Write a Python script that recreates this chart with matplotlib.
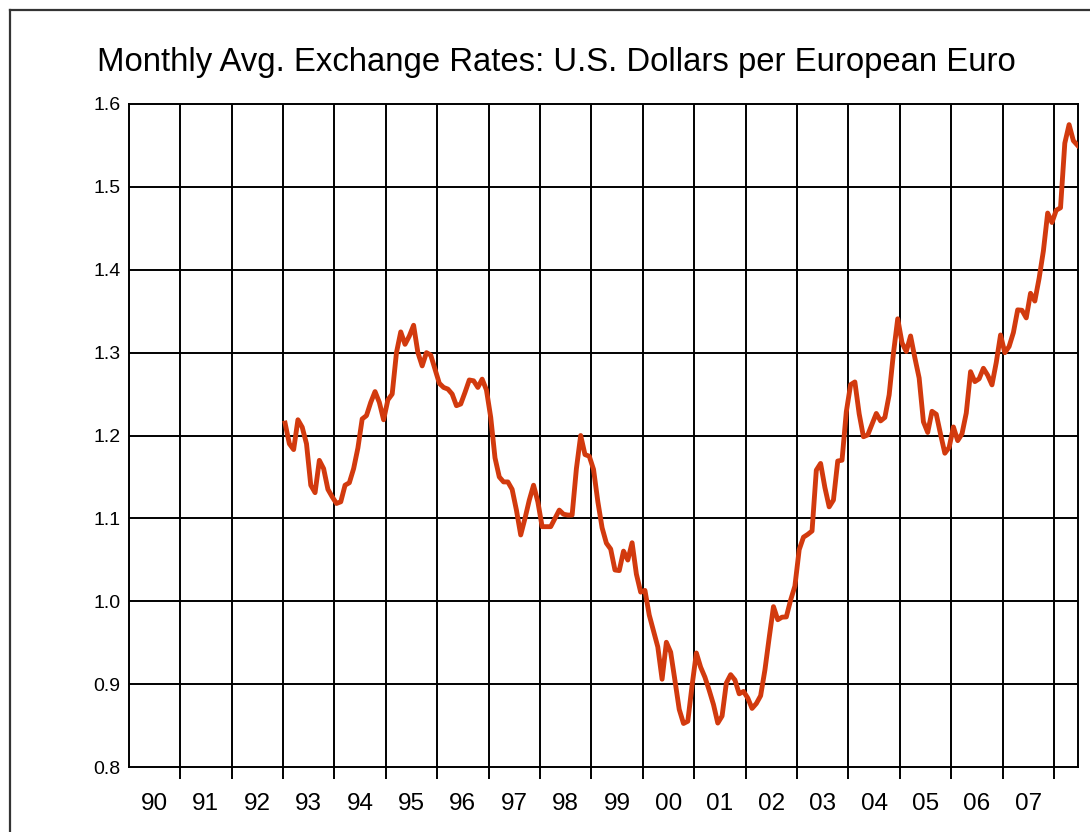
import matplotlib
matplotlib.use("Agg")
import matplotlib.pyplot as plt
from matplotlib.lines import Line2D
import numpy as np

# Monthly average USD per EUR, Jan 1993 .. Jun 2008
rates_1993 = [1.215, 1.190, 1.183, 1.219, 1.210, 1.190, 1.140, 1.131, 1.170, 1.160, 1.135, 1.126]
rates_1994 = [1.118, 1.120, 1.140, 1.143, 1.160, 1.185, 1.220, 1.224, 1.240, 1.253, 1.240, 1.219]
rates_1995 = [1.243, 1.250, 1.300, 1.325, 1.310, 1.320, 1.333, 1.300, 1.284, 1.300, 1.297, 1.280]
rates_1996 = [1.263, 1.258, 1.256, 1.250, 1.236, 1.238, 1.252, 1.267, 1.266, 1.258, 1.268, 1.255]
rates_1997 = [1.222, 1.173, 1.150, 1.144, 1.144, 1.135, 1.110, 1.080, 1.100, 1.122, 1.140, 1.120]
rates_1998 = [1.090, 1.090, 1.090, 1.100, 1.110, 1.105, 1.104, 1.104, 1.160, 1.200, 1.177, 1.175]
rates_1999 = [1.1591, 1.1203, 1.0886, 1.0701, 1.0630, 1.0377, 1.0370, 1.0605, 1.0497, 1.0706, 1.0328, 1.0110]
rates_2000 = [1.0131, 0.9834, 0.9643, 0.9449, 0.9059, 0.9505, 0.9386, 0.9045, 0.8695, 0.8525, 0.8552, 0.8983]
rates_2001 = [0.9376, 0.9205, 0.9083, 0.8925, 0.8753, 0.8530, 0.8615, 0.9014, 0.9114, 0.9050, 0.8883, 0.8912]
rates_2002 = [0.8832, 0.8707, 0.8766, 0.8860, 0.9170, 0.9561, 0.9935, 0.9777, 0.9808, 0.9811, 1.0014, 1.0183]
rates_2003 = [1.0622, 1.0773, 1.0807, 1.0848, 1.1582, 1.1663, 1.1372, 1.1139, 1.1222, 1.1692, 1.1702, 1.2286]
rates_2004 = [1.2613, 1.2646, 1.2262, 1.1985, 1.2007, 1.2138, 1.2266, 1.2176, 1.2218, 1.2490, 1.2991, 1.3408]
rates_2005 = [1.3119, 1.3014, 1.3201, 1.2938, 1.2694, 1.2165, 1.2037, 1.2292, 1.2256, 1.2015, 1.1786, 1.1856]
rates_2006 = [1.2103, 1.1938, 1.2020, 1.2271, 1.2770, 1.2650, 1.2684, 1.2811, 1.2727, 1.2611, 1.2881, 1.3213]
rates_2007 = [1.2999, 1.3074, 1.3242, 1.3516, 1.3511, 1.3419, 1.3716, 1.3622, 1.3896, 1.4227, 1.4684, 1.4570]
rates_2008 = [1.4718, 1.4748, 1.5527, 1.5751, 1.5557, 1.5500]

start_year = 1993
year_labels = ["90", "91", "92", "93", "94", "95", "96", "97", "98", "99",
               "00", "01", "02", "03", "04", "05", "06", "07"]
y_ticks = [0.8, 0.9, 1.0, 1.1, 1.2, 1.3, 1.4, 1.5, 1.6]

rates = (rates_1993 + rates_1994 + rates_1995 + rates_1996 + rates_1997 + rates_1998 +
         rates_1999 + rates_2000 + rates_2001 + rates_2002 + rates_2003 + rates_2004 +
         rates_2005 + rates_2006 + rates_2007 + rates_2008)
t = start_year + (np.arange(len(rates)) + 0.5) / 12.0

W, H = 1090, 832
fig = plt.figure(figsize=(W / 100, H / 100), dpi=100)
plt.rcParams['font.family'] = ['Liberation Sans', 'DejaVu Sans']

ax_left, ax_right, ax_top, ax_bottom = 128.7, 1078, 104, 767
ax = fig.add_axes([ax_left / W, 1 - ax_bottom / H, (ax_right - ax_left) / W, (ax_bottom - ax_top) / H])

ax.plot(t, rates, color="#d23a0e", lw=3.5, solid_joinstyle="round", zorder=3)

ax.set_xlim(1990.0, 2008.465)
ax.set_ylim(0.8, 1.6)

# grid lines
for yr in range(1991, 2009):
    ax.axvline(yr, color="black", lw=1.4, zorder=1)
for yv in y_ticks[1:-1]:
    ax.axhline(yv, color="black", lw=1.4, zorder=1)

ax.set_xticks(list(range(1991, 2009)))
ax.set_xticklabels([])
ax.tick_params(axis="x", which="major", length=8.5, width=1.4, direction="out", color="black")
ax.set_xticks([1990.5 + i for i in range(len(year_labels))], minor=True)
ax.set_xticklabels(year_labels, minor=True, fontsize=17.5)
ax.tick_params(axis="x", which="minor", length=0, pad=19)

ax.set_yticks(y_ticks)
ax.set_yticklabels([f"{v:.1f}" for v in y_ticks], fontsize=14)
ax.tick_params(axis="y", length=0, pad=6)

for s in ax.spines.values():
    s.set_linewidth(1.4)
    s.set_color("black")

fig.text(556 / W, 1 - 62 / H, "Monthly Avg. Exchange Rates: U.S. Dollars per European Euro",
         ha="center", va="center", fontsize=23.7, color="black")

# outer frame (left and top edges)
fig.add_artist(Line2D([10 / W, 10 / W], [0, 1 - 10 / H], transform=fig.transFigure,
                      color="#333333", lw=1.6))
fig.add_artist(Line2D([10 / W, 1], [1 - 10 / H, 1 - 10 / H], transform=fig.transFigure,
                      color="#333333", lw=1.6))

fig.savefig("out.png", dpi=100)
